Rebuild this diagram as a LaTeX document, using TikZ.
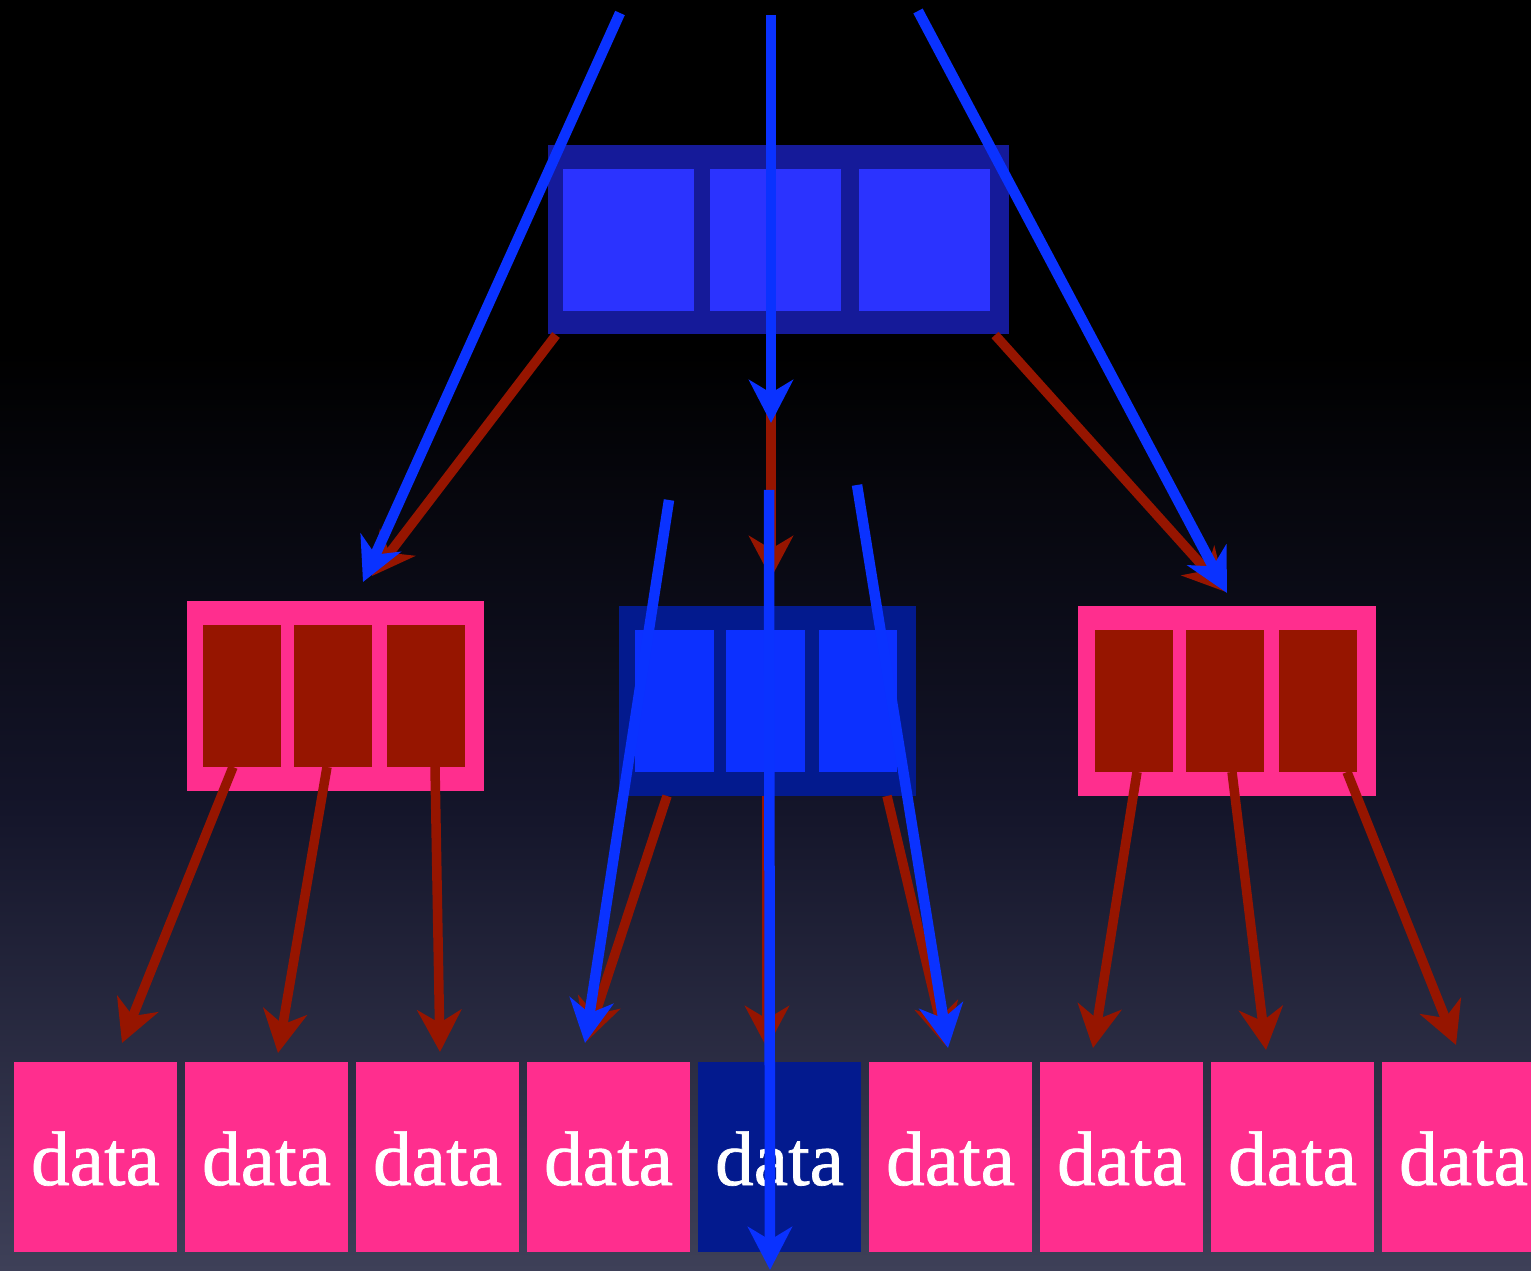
\documentclass[tikz,border=0pt]{standalone}
\usepackage{fontspec}
\setmainfont{Liberation Serif}
\newfontfamily\datafont[FakeBold=0.9]{Liberation Serif}
\usetikzlibrary{arrows.meta,calc}
\definecolor{pinkc}{RGB}{255,46,142}
\definecolor{redc}{RGB}{150,21,0}
\definecolor{topouter}{RGB}{21,26,153}
\definecolor{topinner}{RGB}{43,51,255}
\definecolor{midouter}{RGB}{3,26,142}
\definecolor{midinner}{RGB}{12,48,255}
\definecolor{bluec}{RGB}{10,50,255}
\definecolor{bgmid}{RGB}{20,21,42}
\definecolor{bgbot}{RGB}{62,64,88}
\begin{document}
\begin{tikzpicture}[x=0.01cm,y=-0.01cm,
  box/.style={rectangle, inner sep=0pt, outer sep=0pt, draw=none},
  bigouter/.style={box, minimum width=4.61cm, minimum height=1.89cm},
  biginner/.style={box, fill=topinner, minimum width=1.31cm, minimum height=1.42cm},
  smallouter/.style={box, minimum width=2.97cm, minimum height=1.90cm},
  smallinner/.style={box, minimum width=0.78cm, minimum height=1.42cm},
  databox/.style={box, minimum width=1.63cm, minimum height=1.90cm},
  datatext/.style={anchor=base, inner sep=0pt, text=white, font=\datafont\fontsize{22}{22}\selectfont},
  redarrow/.style={draw=redc, line width=0.095cm, -{Stealth[length=0.42cm,width=0.44cm,inset=0.13cm]}},
  bluearrow/.style={draw=bluec, line width=0.105cm, -{Stealth[length=0.43cm,width=0.44cm,inset=0.13cm]}}]
\useasboundingbox (0,0) rectangle (1531,1271);
% background
\fill[black] (0,0) rectangle (1531,1271);
\shade[top color=black, bottom color=bgmid] (0,350) rectangle (1531,811);
\shade[top color=bgmid, bottom color=bgbot] (0,810) rectangle (1531,1271);

% top node
\node[bigouter, fill=topouter] (T) at (778.5,239.5) {};
\node[biginner] (T1) at (628.5,240) {};
\node[biginner] (T2) at (775.5,240) {};
\node[biginner] (T3) at (924.5,240) {};

% left node
\node[smallouter, fill=pinkc] (L) at (335.5,696) {};
\node[smallinner, fill=redc] (L1) at (242,696) {};
\node[smallinner, fill=redc] (L2) at (333,696) {};
\node[smallinner, fill=redc] (L3) at (426,696) {};

% middle node
\node[smallouter, fill=midouter] (M) at (767.5,701) {};
\node[smallinner, fill=midinner] (M1) at (674.5,701) {};
\node[smallinner, fill=midinner] (M2) at (765.5,701) {};
\node[smallinner, fill=midinner] (M3) at (858,701) {};

% right node
\node[smallouter, fill=pinkc] (R) at (1227,701) {};
\node[smallinner, fill=redc] (R1) at (1134,701) {};
\node[smallinner, fill=redc] (R2) at (1225,701) {};
\node[smallinner, fill=redc] (R3) at (1318,701) {};

% data boxes
\foreach \i/\c in {0/pinkc,1/pinkc,2/pinkc,3/pinkc,4/midouter,5/pinkc,6/pinkc,7/pinkc,8/pinkc}{
  \pgfmathsetmacro\cx{95.5+171*\i}
  \node[databox, fill=\c] (D\i) at (\cx,1157) {};
  \node[datatext] (W\i) at ($(D\i.south)+(0,-67)$) {data};
}

% connector end points
\coordinate (rT1s) at (556,335);  \coordinate (rT1e) at (372,576);
\coordinate (rT2s) at (771,335);  \coordinate (rT2e) at (771,578);
\coordinate (rT3s) at (995,335);  \coordinate (rT3e) at (1226,592);
\coordinate (rL1s) at (233,767);  \coordinate (rL1e) at (122,1043);
\coordinate (rL2s) at (327,767);  \coordinate (rL2e) at (278,1053);
\coordinate (rL3s) at (435,767);  \coordinate (rL3e) at (440,1052);
\coordinate (rM1s) at (667,796);  \coordinate (rM1e) at (586,1042);
\coordinate (rM2s) at (767,796);  \coordinate (rM2e) at (767,1048);
\coordinate (rM3s) at (887,796);  \coordinate (rM3e) at (946,1046);
\coordinate (rR1s) at (1137,772); \coordinate (rR1e) at (1093,1048);
\coordinate (rR2s) at (1232,772); \coordinate (rR2e) at (1266,1050);
\coordinate (rR3s) at (1347,772); \coordinate (rR3e) at (1456,1045);

\coordinate (bT1s) at (620,13);   \coordinate (bT1e) at (363,582);
\coordinate (bT2s) at (771,15);   \coordinate (bT2e) at (771,423);
\coordinate (bT3s) at (918,11);   \coordinate (bT3e) at (1227,593);
\coordinate (bM1s) at (669,500);  \coordinate (bM1e) at (585,1043);
\coordinate (bM2s) at (769,490);  \coordinate (bM2e) at (770,1270);
\coordinate (bM3s) at (857,485);  \coordinate (bM3e) at (948,1048);

% red arrows
\foreach \n in {T1,T2,T3,L1,L2,L3,M1,M2,M3,R1,R2,R3}{
  \draw[redarrow] (r\n s) -- (r\n e);
}
% blue arrows
\foreach \n in {T1,T2,T3,M1,M2,M3}{
  \draw[bluearrow] (b\n s) -- (b\n e);
}
\end{tikzpicture}
\end{document}
